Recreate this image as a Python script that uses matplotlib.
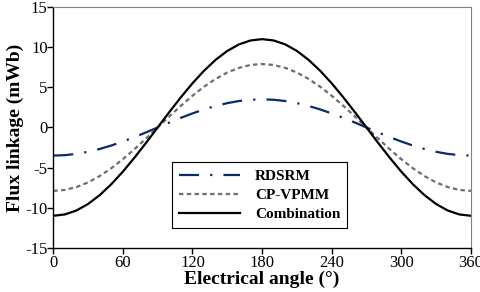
import matplotlib.pyplot as plt
import numpy as np

# values, every 10 degrees
angle = list(range(0, 361, 10))
rdsrm = [-3.50, -3.45, -3.29, -3.03, -2.68, -2.25, -1.75, -1.20, -0.61, 0.00,
         0.61, 1.20, 1.75, 2.25, 2.68, 3.03, 3.29, 3.45, 3.50,
         3.45, 3.29, 3.03, 2.68, 2.25, 1.75, 1.20, 0.61, 0.00,
         -0.61, -1.20, -1.75, -2.25, -2.68, -3.03, -3.29, -3.45, -3.50]
cpvpmm = [-7.90, -7.78, -7.42, -6.84, -6.05, -5.08, -3.95, -2.70, -1.37, 0.00,
          1.37, 2.70, 3.95, 5.08, 6.05, 6.84, 7.42, 7.78, 7.90,
          7.78, 7.42, 6.84, 6.05, 5.08, 3.95, 2.70, 1.37, 0.00,
          -1.37, -2.70, -3.95, -5.08, -6.05, -6.84, -7.42, -7.78, -7.90]
combo = [-11.00, -10.83, -10.34, -9.53, -8.43, -7.07, -5.50, -3.76, -1.91, 0.00,
         1.91, 3.76, 5.50, 7.07, 8.43, 9.53, 10.34, 10.83, 11.00,
         10.83, 10.34, 9.53, 8.43, 7.07, 5.50, 3.76, 1.91, 0.00,
         -1.91, -3.76, -5.50, -7.07, -8.43, -9.53, -10.34, -10.83, -11.00]

xticks = [0, 60, 120, 180, 240, 300, 360]
yticks = [-15, -10, -5, 0, 5, 10, 15]

plt.rcParams['font.family'] = ['Liberation Serif', 'DejaVu Serif']
plt.rcParams['axes.unicode_minus'] = False

fig = plt.figure(figsize=(4.8, 2.92), dpi=100)
ax = fig.add_axes([0.111, 0.151, 0.870, 0.825])

ax.plot(angle, rdsrm, color='#0a2a6b', lw=1.6, ls=(0, (9, 5, 1, 5)), label='RDSRM')
ax.plot(angle, cpvpmm, color='#6e6e6e', lw=1.6, ls=(0, (2, 1.5)), label='CP-VPMM')
ax.plot(angle, combo, color='black', lw=1.6, label='Combination')

ax.set_xlim(0, 360)
ax.set_ylim(-15, 15)
ax.set_xticks(xticks)
ax.set_yticks(yticks)
ax.tick_params(direction='out', length=4, width=1, labelsize=12, pad=0)
ax.tick_params(axis='x', pad=1)
for s in ['top', 'right']:
    ax.spines[s].set_color('#808080')
for s in ['left', 'bottom']:
    ax.spines[s].set_linewidth(1.0)

ax.set_xlabel('Electrical angle (°)', fontsize=14, fontweight='bold', labelpad=0)
ax.set_ylabel('Flux linkage (mWb)', fontsize=14, fontweight='bold', labelpad=1)

leg = ax.legend(loc='lower left', bbox_to_anchor=(0.284, 0.083), fancybox=False,
                edgecolor='black', framealpha=1, handlelength=4.0,
                prop={'weight': 'bold', 'size': 11}, borderpad=0.45,
                labelspacing=0.35, handletextpad=1.0, borderaxespad=0)
leg.get_frame().set_linewidth(0.8)

fig.savefig('out.png', dpi=100)
